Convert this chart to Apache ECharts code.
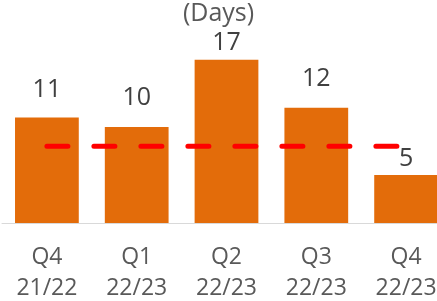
<!DOCTYPE html>
<html>
<head>
<meta charset="utf-8">
<script src="https://cdn.jsdelivr.net/npm/echarts@6/dist/echarts.min.js"></script>
<style>
  html, body { margin: 0; padding: 0; background: #fff; }
  #main { width: 437px; height: 301px; }
</style>
</head>
<body>
<div id="main"></div>
<script>
var quarters = ['Q4\n21/22', 'Q1\n22/23', 'Q2\n22/23', 'Q3\n22/23', 'Q4\n22/23'];
var days = [11, 10, 17, 12, 5];
var target = [8, 8, 8, 8, 8];
// label gaps above bars, as placed in the original
var labelGap = [15, 17, 4, 16, 4];

var myChart = echarts.init(document.getElementById('main'));

myChart.setOption({
    backgroundColor: '#fff',
    animation: false,
    title: {
        text: '(Days)',
        left: 'center',
        top: -4,
        textStyle: {
            fontFamily: 'Open Sans',
            fontSize: 25,
            fontWeight: 'normal',
            color: '#595959'
        }
    },
    grid: {
        left: 2,
        right: -14,
        top: 31,
        bottom: 78,
        outerBoundsMode: 'none'
    },
    xAxis: {
        type: 'category',
        data: quarters,
        axisLine: { lineStyle: { color: '#d9d9d9', width: 1 } },
        axisTick: { show: false },
        axisLabel: {
            color: '#595959',
            fontFamily: 'Open Sans',
            fontSize: 23,
            lineHeight: 31,
            margin: 19
        }
    },
    yAxis: {
        type: 'value',
        min: 0,
        max: 20,
        show: false,
        splitLine: { show: false }
    },
    series: [
        {
            type: 'bar',
            barCategoryGap: '29%',
            itemStyle: { color: '#e36c0a' },
            data: days.map(function (v, i) {
                return { value: v, label: { distance: labelGap[i] } };
            }),
            label: {
                show: true,
                position: 'top',
                color: '#404040',
                fontFamily: 'Open Sans',
                fontSize: 25
            }
        },
        {
            type: 'line',
            data: target,
            symbol: 'none',
            z: 5,
            lineStyle: {
                color: '#ff0000',
                width: 5,
                type: [21, 26],
                cap: 'round'
            }
        }
    ]
});
</script>
</body>
</html>
